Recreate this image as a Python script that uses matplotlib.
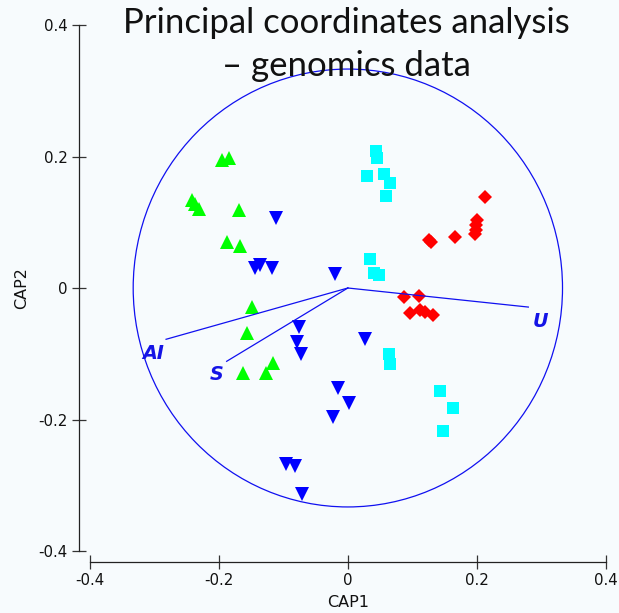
import matplotlib
matplotlib.use("Agg")
import matplotlib.pyplot as plt
from matplotlib.patches import Ellipse

plt.rcParams['axes.unicode_minus'] = False
plt.rcParams['font.family'] = ['DejaVu Sans']

# ---- data (CAP1, CAP2) ----
green_x = [-0.195, -0.185, -0.2425, -0.2378, -0.2312, -0.169, -0.1877, -0.1669,
           -0.1489, -0.1567, -0.1164, -0.1277, -0.1623]
green_y = [0.194, 0.198, 0.1334, 0.1284, 0.1208, 0.1182, 0.070, 0.0634,
           -0.0289, -0.0684, -0.1141, -0.1287, -0.1287]

blue_x = [-0.1111, -0.1447, -0.137, -0.1173, -0.0195, -0.0765, -0.0785, -0.0734,
          0.0259, -0.0155, 0.0016, -0.0233, -0.0956, -0.0827, -0.0714]
blue_y = [0.1071, 0.0304, 0.0356, 0.0304, 0.0219, -0.0593, -0.0821, -0.1008,
          -0.078, -0.1515, -0.1749, -0.1962, -0.2671, -0.2707, -0.3138]

cyan_x = [0.0441, 0.045, 0.0301, 0.0558, 0.0658, 0.0596, 0.0341, 0.0399, 0.0487,
          0.0631, 0.0652, 0.1423, 0.1624, 0.1469]
cyan_y = [0.2079, 0.1983, 0.171, 0.174, 0.1603, 0.1395, 0.0437, 0.0228, 0.0193,
          -0.0998, -0.115, -0.1571, -0.1819, -0.2179]

red_x = [0.2121, 0.2007, 0.1992, 0.1981, 0.1966, 0.166, 0.1288, 0.1257,
         0.0864, 0.1097, 0.0968, 0.1112, 0.119, 0.1319]
red_y = [0.1384, 0.103, 0.0954, 0.0878, 0.0827, 0.0776, 0.070, 0.0736,
         -0.0137, -0.0126, -0.0374, -0.0329, -0.0365, -0.0415]

vec_names = ['AI', 'S', 'U']
vec_x = [-0.282, -0.188, 0.280]
vec_y = [-0.078, -0.1115, -0.029]
vec_label_x = [-0.3014, -0.2037, 0.299]
vec_label_y = [-0.0993, -0.1313, -0.0506]

circle_radius = 0.333

x_ticks = [-0.4, -0.2, 0, 0.2, 0.4]
x_tick_labels = ['-0.4', '-0.2', '0', '0.2', '0.4']
y_ticks = [-0.4, -0.2, 0, 0.2, 0.4]
y_tick_labels = ['-0.4', '-0.2', '0', '0.2', '0.4']

bg = '#F7FBFD'
W, H = 619, 613
fig = plt.figure(figsize=(W / 100, H / 100), dpi=100, facecolor=bg)
ax = fig.add_axes([90 / W, (H - 551) / H, 515.7 / W, 526 / H])
ax.set_facecolor(bg)

ax.plot(green_x, green_y, '^', color='#00FF00', ms=10, mew=0, zorder=3)
ax.plot(blue_x, blue_y, 'v', color='#0000FF', ms=10, mew=0, zorder=3)
ax.plot(cyan_x, cyan_y, 's', color='#00FFFF', ms=8.9, mew=0, zorder=3)
ax.plot(red_x, red_y, 'D', color='#FF0000', ms=7.3, mew=0, zorder=3)

ax.add_patch(Ellipse((0, 0), 2 * circle_radius, 2 * circle_radius, fill=False,
                     edgecolor='#1010F0', lw=0.9, zorder=4))
for name, vx, vy, lx, ly in zip(vec_names, vec_x, vec_y, vec_label_x, vec_label_y):
    ax.plot([0, vx], [0, vy], color='#1010F0', lw=0.9, zorder=4)
    ax.text(lx, ly, name, color='#1414E6', fontsize=13.8, fontweight='bold',
            fontstyle='italic', ha='center', va='center', zorder=5)

ax.set_xlim(-0.4, 0.4)
ax.set_ylim(-0.4, 0.4)
ax.set_xticks(x_ticks)
ax.set_xticklabels(x_tick_labels)
ax.set_yticks(y_ticks)
ax.set_yticklabels(y_tick_labels)
for s in ['top', 'right']:
    ax.spines[s].set_visible(False)
for s in ['left', 'bottom']:
    ax.spines[s].set_position(('outward', 8))
    ax.spines[s].set_bounds(-0.4, 0.4)
    ax.spines[s].set_color('#222222')
    ax.spines[s].set_linewidth(0.9)
ax.tick_params(direction='inout', length=9.5, width=0.9, color='#333333',
               labelsize=10.8, labelcolor='#111111', pad=3.2)

ax.set_xlabel('CAP1', fontsize=11.5, color='#111111')
ax.set_ylabel('CAP2', fontsize=11.5, color='#111111')
ax.xaxis.set_label_coords(0.5, -(602.7 - 551) / 526 , transform=ax.transAxes)
ax.xaxis.label.set_va('center')
ax.yaxis.set_label_coords(-(90 - 21.7) / 515.7, 0.5, transform=ax.transAxes)
ax.yaxis.label.set_va('center')

title_font = ['Lato', 'DejaVu Sans']
fig.text(346 / W, 1 - 32.7 / H, 'Principal coordinates analysis', ha='center',
         va='baseline', fontsize=25, family=title_font, color='#111111', zorder=10)
fig.text(346 / W, 1 - 75.5 / H, '\u2013 genomics data', ha='center',
         va='baseline', fontsize=25, family=title_font, color='#111111', zorder=10)

fig.savefig('out.png', dpi=100, facecolor=bg)
